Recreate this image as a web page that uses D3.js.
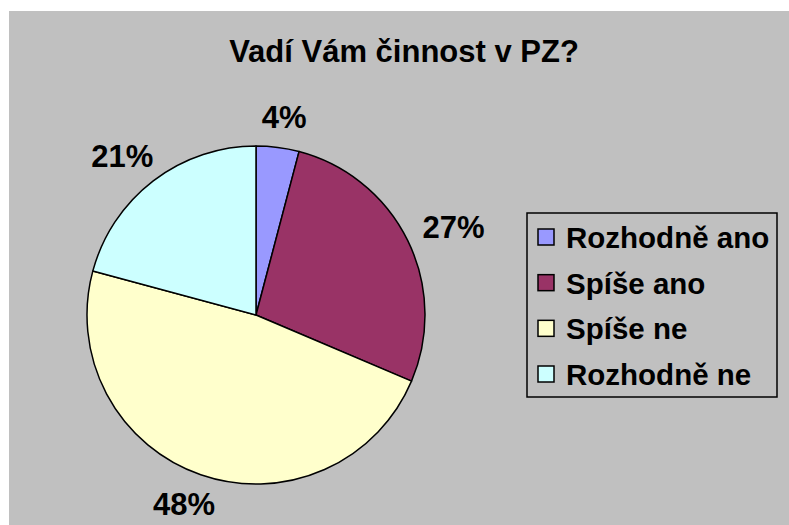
<!DOCTYPE html>
<html>
<head>
<meta charset="utf-8">
<script src="https://cdn.jsdelivr.net/npm/d3@7"></script>
<style>
  body { margin: 0; background: #fff; }
  svg text { font-family: "Liberation Sans", Arial, sans-serif; font-weight: bold; fill: #000; }
</style>
</head>
<body>
<div id="chart"></div>
<script>
const title = "Vadí Vám činnost v PZ?";
const categories = ["Rozhodně ano", "Spíše ano", "Spíše ne", "Rozhodně ne"];
const values = [4.1, 27.3, 47.8, 20.8];
const colors = ["#9999FF", "#993366", "#FFFFCC", "#CCFFFF"];

const width = 789, height = 525;
const cx = 256, cy = 315, radius = 169;

const svg = d3.select("#chart").append("svg")
  .attr("width", width)
  .attr("height", height);

/* chart area background */
svg.append("rect")
  .attr("x", 9).attr("y", 11)
  .attr("width", width - 9).attr("height", height - 11)
  .attr("fill", "#C0C0C0");

svg.append("text")
  .attr("x", 404).attr("y", 62)
  .attr("text-anchor", "middle")
  .style("font-size", "31px")
  .text(title);

const data = categories.map((c, i) => ({name: c, value: values[i], color: colors[i]}));
const total = d3.sum(values);

const pie = d3.pie()
  .sort(null)
  .value(d => d.value)
  .startAngle(0)
  .endAngle(2 * Math.PI);

const arc = d3.arc().innerRadius(0).outerRadius(radius);

const g = svg.append("g").attr("transform", `translate(${cx},${cy})`);

const arcs = pie(data);

g.selectAll("path.slice")
  .data(arcs)
  .join("path")
    .attr("class", "slice")
    .attr("d", arc)
    .attr("fill", d => d.data.color)
    .attr("stroke", "#000")
    .attr("stroke-width", 1.5)
    .attr("stroke-linejoin", "round");

/* labels outside the pie: anchor just past the edge, then push by half the label box */
const gap = 20, labelW = 62, labelH = 22;
g.selectAll("text.pct")
  .data(arcs)
  .join("text")
    .attr("class", "pct")
    .attr("text-anchor", "middle")
    .attr("dy", "0.36em")
    .style("font-size", "31px")
    .attr("x", d => {
      const a = (d.startAngle + d.endAngle) / 2;
      return Math.sin(a) * (radius + gap) + Math.sin(a) * labelW / 2;
    })
    .attr("y", d => {
      const a = (d.startAngle + d.endAngle) / 2;
      return -Math.cos(a) * (radius + gap) - Math.cos(a) * labelH / 2;
    })
    .text(d => Math.round(d.data.value / total * 100) + "%");

/* legend */
const legend = svg.append("g").attr("transform", "translate(527,213)");
legend.append("rect")
  .attr("width", 250).attr("height", 184)
  .attr("fill", "none")
  .attr("stroke", "#000")
  .attr("stroke-width", 1.5);

const rowY = d3.scalePoint()
  .domain(categories)
  .range([35, 172]);

const rows = legend.selectAll("g.row")
  .data(data)
  .join("g")
    .attr("class", "row")
    .attr("transform", d => `translate(0,${rowY(d.name)})`);

rows.append("rect")
  .attr("x", 11).attr("y", -19)
  .attr("width", 16).attr("height", 16)
  .attr("fill", d => d.color)
  .attr("stroke", "#000")
  .attr("stroke-width", 1.5);

rows.append("text")
  .attr("x", 39).attr("y", 0)
  .style("font-size", "29.5px")
  .text(d => d.name);
</script>
</body>
</html>
